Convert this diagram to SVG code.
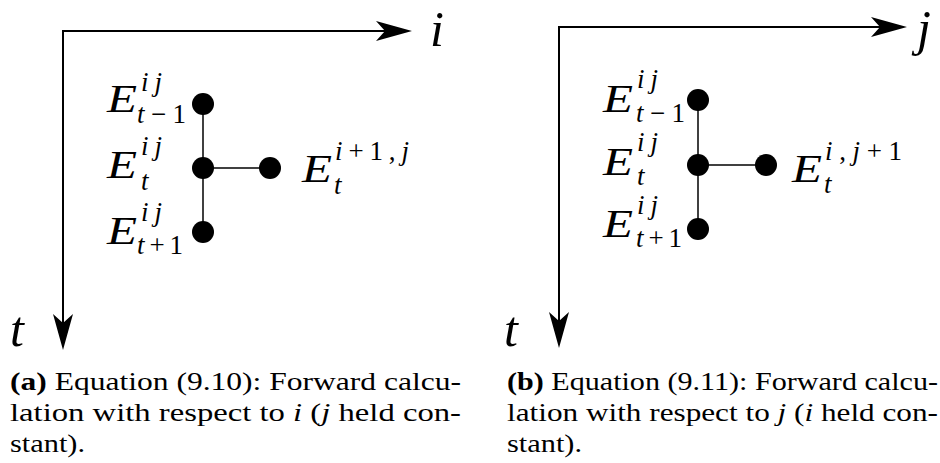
<svg xmlns="http://www.w3.org/2000/svg" xmlns:xlink="http://www.w3.org/1999/xlink" width="940" height="463" viewBox="0 0 940 463">
<style>
.axis{fill:none;stroke:#000;stroke-width:2}
.edge{fill:none;stroke:#000;stroke-width:1.5}
.node{fill:#000}
.m{font-family:"Liberation Serif","DejaVu Serif",serif;font-style:italic;font-size:40px;fill:#000}
.ax{font-family:"Liberation Serif","DejaVu Serif",serif;font-style:italic;font-size:50px;fill:#000}
.s{font-family:"Liberation Serif","DejaVu Serif",serif;font-size:27px;fill:#000}
.it{font-style:italic}
.cap{font-family:"Liberation Serif","DejaVu Serif",serif;font-size:25px;fill:#000}
.b{font-weight:bold}
</style>
<defs>
<path id="ah" d="M0,0 L-36,-10 L-27,0 L-36,10 Z" fill="#000"/>
</defs>

<!-- Panel (a) -->
<g id="axes-a">
<path class="axis" d="M400,31 H63 V338"/>
<use xlink:href="#ah" href="#ah" transform="translate(412,31)"/>
<use xlink:href="#ah" href="#ah" transform="translate(63,350) rotate(90)"/>
<text class="ax" x="430" y="46">i</text>
<text class="ax" x="10" y="346">t</text>
</g>
<g id="connectors-a">
<line class="edge" x1="203" y1="104" x2="203" y2="232"/>
<line class="edge" x1="203" y1="168" x2="270" y2="168"/>
</g>
<g id="a-top">
<circle class="node" cx="203" cy="104" r="11"/>
<text class="m" x="107" y="112" textLength="30" lengthAdjust="spacingAndGlyphs">E</text>
<text class="s it" x="141" y="91" textLength="21" lengthAdjust="spacing">ij</text>
<text class="s" x="137" y="123" textLength="49" lengthAdjust="spacing"><tspan class="it">t</tspan>−1</text>
</g>
<g id="a-center">
<circle class="node" cx="203" cy="168" r="11"/>
<text class="m" x="107" y="178" textLength="30" lengthAdjust="spacingAndGlyphs">E</text>
<text class="s it" x="141" y="155" textLength="21" lengthAdjust="spacing">ij</text>
<text class="s it" x="141" y="190">t</text>
</g>
<g id="a-bottom">
<circle class="node" cx="203" cy="232" r="11"/>
<text class="m" x="107" y="244" textLength="30" lengthAdjust="spacingAndGlyphs">E</text>
<text class="s it" x="141" y="221" textLength="21" lengthAdjust="spacing">ij</text>
<text class="s" x="137" y="254" textLength="46" lengthAdjust="spacing"><tspan class="it">t</tspan>+1</text>
</g>
<g id="a-right">
<circle class="node" cx="270" cy="168" r="11"/>
<text class="m" x="302" y="182" textLength="30" lengthAdjust="spacingAndGlyphs">E</text>
<text class="s" x="335" y="160" textLength="74" lengthAdjust="spacing"><tspan class="it">i</tspan>+1,<tspan class="it">j</tspan></text>
<text class="s it" x="334" y="194">t</text>
</g>

<!-- Panel (b) -->
<g id="axes-b">
<path class="axis" d="M895,27 H559 V336"/>
<use xlink:href="#ah" href="#ah" transform="translate(907,27)"/>
<use xlink:href="#ah" href="#ah" transform="translate(559,348) rotate(90)"/>
<text class="ax" x="917" y="45" font-size="46">j</text>
<text class="ax" x="504" y="346">t</text>
</g>
<g id="connectors-b">
<line class="edge" x1="698" y1="100" x2="698" y2="229"/>
<line class="edge" x1="698" y1="165" x2="766" y2="165"/>
</g>
<g id="b-top">
<circle class="node" cx="698" cy="100" r="11"/>
<text class="m" x="603" y="112" textLength="30" lengthAdjust="spacingAndGlyphs">E</text>
<text class="s it" x="637" y="88" textLength="21" lengthAdjust="spacing">ij</text>
<text class="s" x="636" y="122" textLength="49" lengthAdjust="spacing"><tspan class="it">t</tspan>−1</text>
</g>
<g id="b-center">
<circle class="node" cx="698" cy="165" r="11"/>
<text class="m" x="603" y="175" textLength="30" lengthAdjust="spacingAndGlyphs">E</text>
<text class="s it" x="637" y="151" textLength="21" lengthAdjust="spacing">ij</text>
<text class="s it" x="637" y="185">t</text>
</g>
<g id="b-bottom">
<circle class="node" cx="698" cy="229" r="11"/>
<text class="m" x="603" y="237" textLength="30" lengthAdjust="spacingAndGlyphs">E</text>
<text class="s it" x="637" y="214" textLength="21" lengthAdjust="spacing">ij</text>
<text class="s" x="636" y="247" textLength="46" lengthAdjust="spacing"><tspan class="it">t</tspan>+1</text>
</g>
<g id="b-right">
<circle class="node" cx="766" cy="165" r="11"/>
<text class="m" x="792" y="182" textLength="30" lengthAdjust="spacingAndGlyphs">E</text>
<text class="s" x="825" y="160" textLength="77" lengthAdjust="spacing"><tspan class="it">i</tspan>,<tspan class="it">j</tspan>+1</text>
<text class="s it" x="824" y="193">t</text>
</g>

<!-- Captions -->
<g id="caption-a">
<text class="cap" x="10" y="390" textLength="451" lengthAdjust="spacingAndGlyphs"><tspan class="b">(a)</tspan> Equation (9.10): Forward calcu-</text>
<text class="cap" x="10" y="421" textLength="451" lengthAdjust="spacingAndGlyphs">lation with respect to <tspan class="it">i</tspan> (<tspan class="it">j</tspan> held con-</text>
<text class="cap" x="10" y="452" textLength="75" lengthAdjust="spacingAndGlyphs">stant).</text>
</g>
<g id="caption-b">
<text class="cap" x="507" y="390" textLength="431" lengthAdjust="spacingAndGlyphs"><tspan class="b">(b)</tspan> Equation (9.11): Forward calcu-</text>
<text class="cap" x="507" y="421" textLength="431" lengthAdjust="spacingAndGlyphs">lation with respect to <tspan class="it">j</tspan> (<tspan class="it">i</tspan> held con-</text>
<text class="cap" x="507" y="452" textLength="75" lengthAdjust="spacingAndGlyphs">stant).</text>
</g>
</svg>
